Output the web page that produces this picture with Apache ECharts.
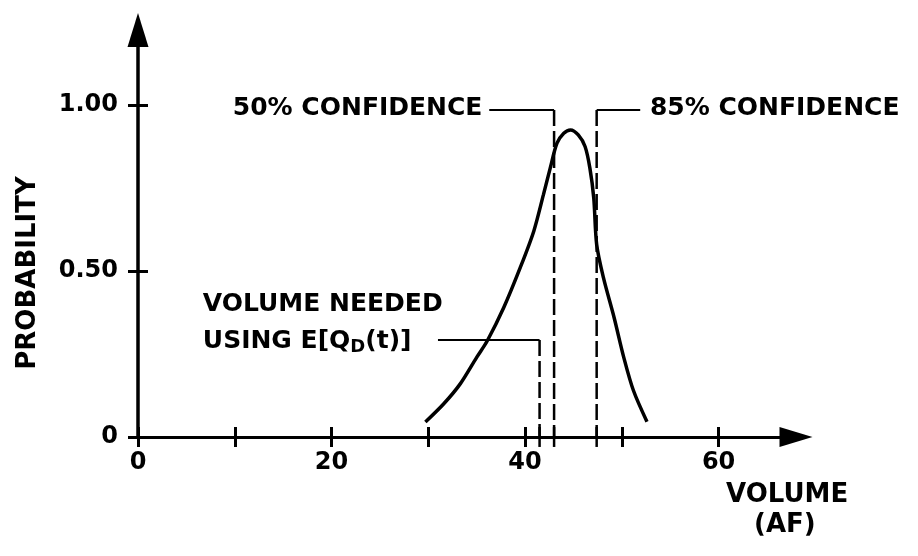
<!DOCTYPE html>
<html><head><meta charset="utf-8">
<script src="https://cdn.jsdelivr.net/npm/echarts@6/dist/echarts.min.js"></script>
<style>html,body{margin:0;padding:0;background:#fff}#c{width:918px;height:556px}</style>
</head><body><div id="c"></div>
<script>
// ---- data ----
const volume      = [29.7, 31.6, 33.3, 35.0, 36.1, 37.8, 39.5, 40.9, 41.9, 42.6, 43.3, 44.0, 44.7, 45.5, 46.2, 46.7, 47.1, 47.4, 48.1, 49.2, 50.2, 51.2, 52.6];
const probability = [0.045, 0.10, 0.16, 0.24, 0.29, 0.39, 0.51, 0.62, 0.73, 0.81, 0.885, 0.915, 0.925, 0.91, 0.875, 0.81, 0.72, 0.58, 0.48, 0.36, 0.24, 0.14, 0.046];
const xTicks = [0, 10, 20, 30, 40, 50, 60];
const xTickLabels = [0, 20, 40, 60];
const yTicks = [0, 0.5, 1.0];
const yTickLabels = ['0', '0.50', '1.00'];
const markVolumes = [41.5, 43.0, 47.4];          // expected-value volume, 50% and 85% confidence
const markTops = [0.292, 0.985, 0.985];           // where the leaders meet the dashed lines
const leaderStarts = [31.0, 36.3, 51.9];          // other end of each leader line
const noteAnchors = [[6.7, 0.398], [6.7, 0.288], [9.8, 0.99], [52.9, 0.99]];
const noteTexts = ['VOLUME NEEDED', 'USING E[Q{d|D}(t)]', '50% CONFIDENCE', '85% CONFIDENCE'];
const axisTitleX = ['VOLUME', '(AF)'];
const axisTitleY = 'PROBABILITY';

const FONT = 'DejaVu Sans';
const ink = '#000';
const chart = echarts.init(document.getElementById('c'), null, {renderer: 'canvas'});

const series = [];
series.push({
  type: 'line', name: 'pdf', data: volume.map((v, i) => [v, probability[i]]),
  smooth: 0.3, symbol: 'none', lineStyle: {color: ink, width: 3.5}, z: 5
});
markVolumes.forEach((v, i) => {
  series.push({type: 'line', data: [[v, markTops[i]], [v, 0]], symbol: 'none', clip: false,
    lineStyle: {color: ink, width: 2.5, type: [16, 5]}});
  series.push({type: 'line', data: [[v, 0.03], [v, -0.03]], symbol: 'none', clip: false,
    lineStyle: {color: ink, width: 2.5}});
  series.push({type: 'line', data: [[leaderStarts[i], markTops[i]], [v, markTops[i]]], symbol: 'none', clip: false,
    lineStyle: {color: ink, width: 2}});
});
series.push({
  type: 'scatter', symbolSize: 0, clip: false, itemStyle: {opacity: 1},
  data: noteAnchors.map((p, i) => ({value: p, name: noteTexts[i]})),
  label: {
    show: true, position: 'right', distance: 0, formatter: p => p.name, opacity: 1,
    color: ink, fontFamily: FONT, fontWeight: 'bold', fontSize: 25,
    rich: {d: {fontFamily: FONT, fontWeight: 'bold', fontSize: 18, color: ink, padding: [12, 0, 0, 0]}}
  }
});

const axText = {color: ink, fontFamily: FONT, fontWeight: 'bold', fontSize: 24};
chart.setOption({
  animation: false,
  backgroundColor: '#fff',
  grid: {left: 138, top: 30, width: 658, height: 407},
  xAxis: [
    {type: 'value', min: 0, max: 68, position: 'bottom',
     axisLine: {show: true, onZero: false, lineStyle: {color: ink, width: 3}, symbol: ['none', 'triangle'], symbolSize: [20, 33]},
     axisTick: {show: true, inside: false, length: 10, lineStyle: {color: ink, width: 3}, customValues: xTicks},
     axisLabel: Object.assign({show: true, margin: 14, customValues: xTickLabels}, axText),
     splitLine: {show: false}},
    {type: 'value', min: 0, max: 68, position: 'bottom',
     axisLine: {show: false},
     axisTick: {show: true, inside: true, length: 10, lineStyle: {color: ink, width: 3}, customValues: xTicks},
     axisLabel: {show: false}, splitLine: {show: false}}
  ],
  yAxis: [
    {type: 'value', min: 0, max: 1.226, position: 'left',
     axisLine: {show: true, onZero: false, lineStyle: {color: ink, width: 3.5}, symbol: ['none', 'triangle'], symbolSize: [21, 34]},
     axisTick: {show: true, inside: false, length: 10, lineStyle: {color: ink, width: 3}, customValues: yTicks},
     axisLabel: Object.assign({show: true, margin: 20, customValues: yTicks,
       formatter: v => yTickLabels[yTicks.findIndex(t => Math.abs(t - v) < 1e-6)] ?? ''}, axText),
     splitLine: {show: false}},
    {type: 'value', min: 0, max: 1.226, position: 'left',
     axisLine: {show: false},
     axisTick: {show: true, inside: true, length: 10, lineStyle: {color: ink, width: 3}, customValues: yTicks},
     axisLabel: {show: false}, splitLine: {show: false}}
  ],
  graphic: [
    {type: 'text', left: 726, top: 482, style: {text: axisTitleX[0], fill: ink, font: 'bold 26px "DejaVu Sans"'}},
    {type: 'text', left: 754, top: 512, style: {text: axisTitleX[1], fill: ink, font: 'bold 26px "DejaVu Sans"'}},
    {type: 'text', x: 28, y: 273, rotation: Math.PI / 2,
     style: {text: axisTitleY, fill: ink, font: 'bold 26px "DejaVu Sans"', textAlign: 'center', textVerticalAlign: 'middle'}}
  ],
  series: series
});
</script></body></html>
